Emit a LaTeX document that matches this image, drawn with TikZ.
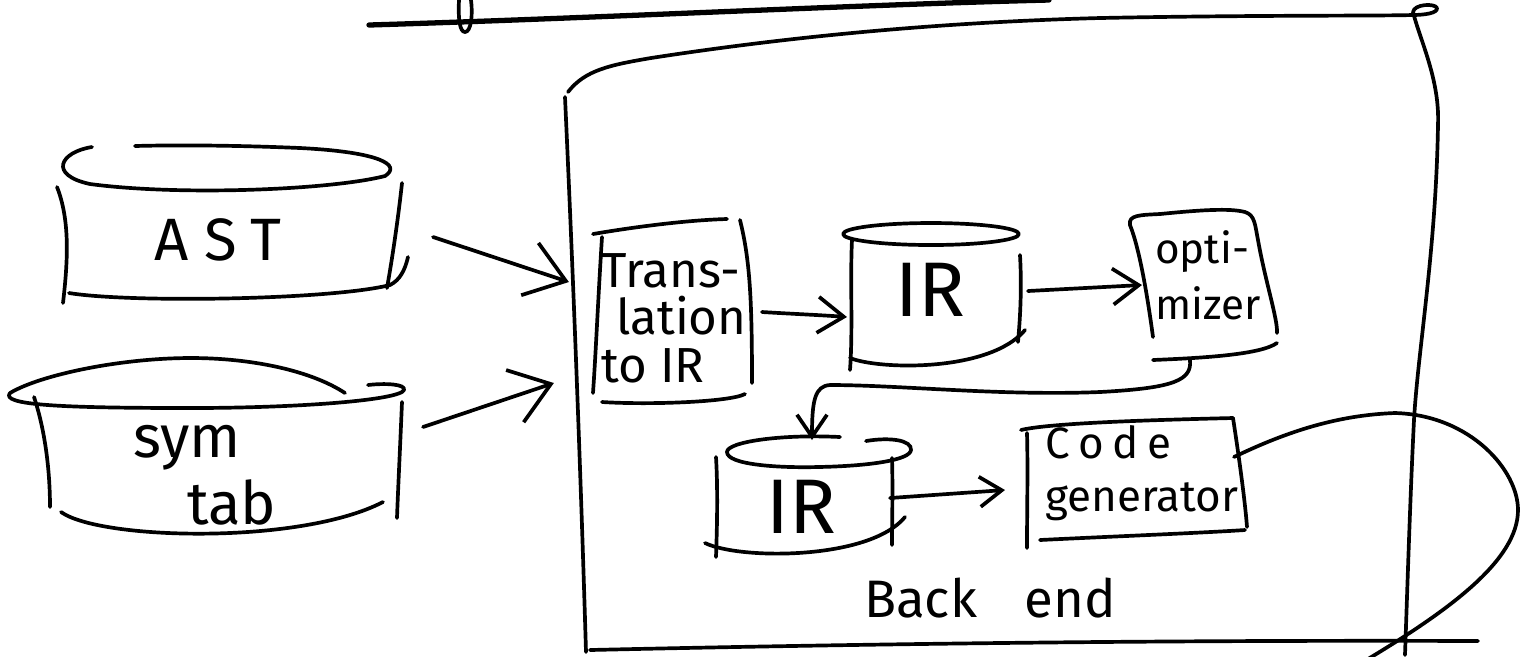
\documentclass[tikz,border=0pt]{standalone}
\usepackage{fontspec}
\setmainfont{Fira Sans}
\usetikzlibrary{arrows.meta,calc}
\begin{document}
\begin{tikzpicture}[x=0.01cm,y=-0.01cm,
  line width=1.05pt, line cap=round, line join=round,
  pen/.style={draw=black},
  lbl/.style={inner sep=0pt, align=left, text=black},
  bigarr/.style={-{Straight Barb[length=0.38cm,width=0.55cm]}},
  midarr/.style={-{Straight Barb[length=0.26cm,width=0.36cm]}},
  smallarr/.style={-{Straight Barb[length=0.22cm,width=0.3cm]}}]
\useasboundingbox (0,0) rectangle (1529,656);

% ---------- text nodes ----------
\node[lbl, font=\fontsize{17}{17}\selectfont\addfontfeature{LetterSpace=25}] (ast) at (218,240) {AST};
\node[lbl, font=\fontsize{17}{19}\selectfont] (sym) at (205,475) {sym\\\hspace*{0.9em}tab};
\node[lbl, font=\fontsize{14}{13.5}\selectfont] (trans) at (674,318) {Trans-\\\hspace*{0.3em}lation\\to IR};
\node[lbl, font=\fontsize{22}{22}\selectfont] (ir1) at (930,290) {IR};
\node[lbl, font=\fontsize{12}{16}\selectfont] (opt) at (1208,275) {opti-\\mizer};
\node[lbl, font=\fontsize{22}{22}\selectfont] (ir2) at (801,507) {IR};
\node[lbl, font=\fontsize{12.5}{15}\selectfont] (gen) at (1142,473) {{\addfontfeature{LetterSpace=20}Code}\\generator};
\node[lbl, font=\fontsize{15}{15}\selectfont] (belbl) at (990,598) {Back\hspace{0.9em}end};
\node[inner sep=0pt, minimum width=8.5cm, minimum height=5.9cm] (be) at (1000,352) {};
\coordinate (loopend) at (1363,662);

% ---------- fragment of the line above ----------
\draw[pen, line width=1.5pt] (369,25) .. controls (600,18) and (850,5) .. (1049,0);
\draw[pen] (459,0) .. controls (458,20) and (460,32) .. (465,32) .. controls (471,32) and (473,15) .. (471,0);

% ---------- Back end box ----------
\draw[pen] (568,92) .. controls (585,70) and (610,65) .. (651,58)
  .. controls (800,35) and (950,22) .. (1100,18)
  .. controls (1250,15) and (1380,16) .. (1412,15)
  .. controls (1425,15) and (1438,13) .. (1437,8)
  .. controls (1435,3) and (1414,4) .. (1413,12)
  .. controls (1420,40) and (1440,80) .. (1438,125)
  .. controls (1436,250) and (1418,350) .. (1414,420)
  .. controls (1410,500) and (1407,600) .. (1405,655);
\draw[pen] (565,97) .. controls (572,250) and (580,450) .. (586,652);
\draw[pen] (590,650) .. controls (900,643) and (1200,640) .. (1478,641);

% ---------- AST cylinder ----------
\draw[pen] (92,147) .. controls (60,152) and (48,175) .. (90,184)
  .. controls (180,196) and (330,190) .. (385,176)
  .. controls (402,165) and (380,152) .. (300,148)
  .. controls (230,145) and (170,145) .. (135,146);
\draw[pen] (57,187) .. controls (70,220) and (68,260) .. (63,303);
\draw[pen] (402,183) .. controls (398,220) and (392,260) .. (387,288);
\draw[pen] (69,293) .. controls (130,303) and (330,300) .. (390,285)
  .. controls (400,280) and (405,270) .. (408,257);

% ---------- symtab cylinder ----------
\draw[pen] (345,393) .. controls (310,370) and (250,358) .. (191,358)
  .. controls (120,358) and (40,375) .. (10,393)
  .. controls (0,405) and (60,408) .. (191,408)
  .. controls (300,408) and (400,400) .. (404,390)
  .. controls (406,384) and (385,383) .. (368,385);
\draw[pen] (34,397) .. controls (45,430) and (50,470) .. (50,507);
\draw[pen] (402,402) .. controls (400,450) and (398,490) .. (397,518);
\draw[pen] (61,512) .. controls (100,540) and (300,545) .. (383,502);

% ---------- Translation box ----------
\draw[pen] (593,234) .. controls (640,226) and (690,220) .. (727,219);
\draw[pen] (602,237) .. controls (598,300) and (596,350) .. (593,393);
\draw[pen] (740,220) .. controls (750,260) and (752,300) .. (752,383);
\draw[pen] (602,402) .. controls (650,405) and (730,402) .. (745,394);

% ---------- IR cylinder 1 ----------
\draw[pen] (931,234) ellipse [x radius=88, y radius=11];
\draw[pen] (852,240) .. controls (850,280) and (853,330) .. (850,370);
\draw[pen] (1020,255) .. controls (1022,290) and (1020,320) .. (1018,342);
\draw[pen] (850,358) .. controls (880,370) and (990,372) .. (1025,330);

% ---------- optimizer box ----------
\draw[pen] (1153,337) .. controls (1148,300) and (1140,250) .. (1130,225)
  .. controls (1128,215) and (1140,215) .. (1160,214)
  .. controls (1200,210) and (1230,208) .. (1245,212)
  .. controls (1255,215) and (1255,225) .. (1258,240)
  .. controls (1265,280) and (1278,320) .. (1277,333);
\draw[pen] (1153,360) .. controls (1200,358) and (1260,355) .. (1277,343);

% ---------- IR cylinder 2 ----------
\draw[pen] (840,437) .. controls (780,434) and (727,442) .. (727,452)
  .. controls (727,465) and (780,468) .. (818,467)
  .. controls (870,466) and (910,460) .. (911,450)
  .. controls (912,440) and (890,437) .. (866,441);
\draw[pen] (716,457) .. controls (718,490) and (717,530) .. (716,557);
\draw[pen] (892,458) .. controls (893,490) and (892,520) .. (892,545);
\draw[pen] (705,543) .. controls (740,560) and (870,560) .. (905,517);

% ---------- Code generator box ----------
\draw[pen] (1021,430) .. controls (1050,423) and (1150,420) .. (1233,418);
\draw[pen] (1027,433) .. controls (1028,470) and (1027,510) .. (1027,548);
\draw[pen] (1233,418) .. controls (1238,450) and (1245,500) .. (1247,527);
\draw[pen] (1040,540) .. controls (1100,537) and (1200,533) .. (1245,530);

% ---------- connectors ----------
\draw[pen, bigarr] ($(ast)+(215,-3)$) -- ($(be.west)+(-4,-70)$);
\draw[pen, bigarr] ($(sym)+(218,-48)$) -- ($(be.west)+(-19,31)$);
\draw[pen, midarr] ($(trans)+(88,-6)$) .. controls ($(trans)+(121,-4)$) and ($(ir1)+(-110,25)$) .. ($(ir1)+(-83,27)$);
\draw[pen, midarr] ($(ir1)+(98,1)$) -- ($(opt)+(-66,10)$);
\draw[pen, smallarr] ($(opt)+(-18,85)$) .. controls ($(opt)+(-16,105)$) and ($(opt)+(-33,113)$) .. ($(opt)+(-108,117)$)
  .. controls ($(opt)+(-208,121)$) and ($(opt)+(-308,110)$) .. ($(opt)+(-378,110)$)
  .. controls ($(opt)+(-393,111)$) and ($(ir2)+(11,-107)$) .. ($(ir2)+(11,-67)$);
\draw[pen, smallarr] ($(ir2)+(89,-9)$) -- ($(gen)+(-137,17)$);
\draw[pen] ($(gen)+(92,-16)$) .. controls (1290,430) and (1340,415) .. (1395,413)
  .. controls (1470,415) and (1518,470) .. (1518,510)
  .. controls (1518,560) and (1450,610) .. (loopend);
\end{tikzpicture}
\end{document}
